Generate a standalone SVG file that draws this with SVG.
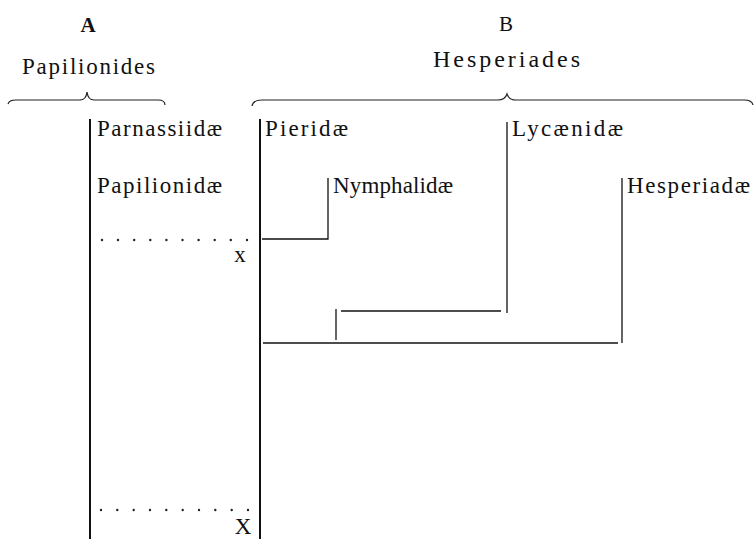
<svg xmlns="http://www.w3.org/2000/svg" width="755" height="539" viewBox="0 0 755 539">
<style>
text{font-family:"Liberation Serif","Times New Roman",serif;font-size:23px;fill:#111}
.h{font-size:21px}
.b{font-weight:bold}
.big{font-size:24px}
.ln{stroke:#111;stroke-width:1.3;fill:none}
.main{stroke:#111;stroke-width:2;fill:none}
.br{stroke:#222;stroke-width:1.2;fill:none}
.dot{fill:#222}
</style>
<rect width="755" height="539" fill="#fff"/>
<g id="header-A">
<text class="h b" x="88" y="32" text-anchor="middle">A</text>
<text x="22" y="74" textLength="133" lengthAdjust="spacing">Papilionides</text>
<path class="br" d="M8 104 Q9 100 16 100 H80 Q86 100 87 92 Q88 100 94 100 H158 Q165 100 165 105"/>
</g>
<g id="header-B">
<text class="h" x="506" y="31" text-anchor="middle">B</text>
<text class="big" x="433" y="67" textLength="147" lengthAdjust="spacing">Hesperiades</text>
<path class="br" d="M252 106 Q253 100 262 100 H498 Q505 100 507 94 Q509 100 516 100 H744 Q752 100 753 105"/>
</g>
<g id="connectors">
<line class="main" x1="90" y1="119" x2="90" y2="539"/>
<line class="main" x1="260" y1="119" x2="260" y2="539"/>
<path class="ln" d="M262 239 H328 V178"/>
<path class="ln" d="M507 122 V313"/>
<path class="ln" d="M341 311 H501"/>
<path class="ln" d="M336 309 V340"/>
<path class="ln" d="M622 178 V343"/>
<path class="ln" d="M263 343 H618"/>
</g>
<g id="node-parnassiidae"><text x="97" y="136" textLength="125" lengthAdjust="spacing">Parnassiidæ</text></g>
<g id="node-papilionidae"><text x="97" y="193" textLength="125" lengthAdjust="spacing">Papilionidæ</text></g>
<g id="node-pieridae"><text x="265" y="136" textLength="83" lengthAdjust="spacing">Pieridæ</text></g>
<g id="node-nymphalidae"><text x="333" y="193" textLength="120" lengthAdjust="spacing">Nymphalidæ</text></g>
<g id="node-lycaenidae"><text x="512" y="136" textLength="111" lengthAdjust="spacing">Lycænidæ</text></g>
<g id="node-hesperiadae"><text x="627" y="193" textLength="123" lengthAdjust="spacing">Hesperiadæ</text></g>
<g id="node-x">
<g class="dot">
<circle cx="102" cy="240" r="1.2"/><circle cx="118" cy="240" r="1.2"/><circle cx="134.2" cy="240" r="1.2"/><circle cx="150.3" cy="240" r="1.2"/><circle cx="166.4" cy="240" r="1.2"/><circle cx="182.5" cy="240" r="1.2"/><circle cx="198.6" cy="240" r="1.2"/><circle cx="214.7" cy="240" r="1.2"/><circle cx="230.8" cy="240" r="1.2"/><circle cx="247" cy="240" r="1.2"/>
</g>
<text x="240" y="262" text-anchor="middle">x</text>
</g>
<g id="node-X">
<g class="dot">
<circle cx="101" cy="510" r="1.2"/><circle cx="117.3" cy="510" r="1.2"/><circle cx="133.7" cy="510" r="1.2"/><circle cx="150" cy="510" r="1.2"/><circle cx="166.3" cy="510" r="1.2"/><circle cx="182.7" cy="510" r="1.2"/><circle cx="199" cy="510" r="1.2"/><circle cx="215.3" cy="510" r="1.2"/><circle cx="231.7" cy="510" r="1.2"/><circle cx="248" cy="510" r="1.2"/>
</g>
<text x="243" y="534" text-anchor="middle">X</text>
</g>
</svg>
